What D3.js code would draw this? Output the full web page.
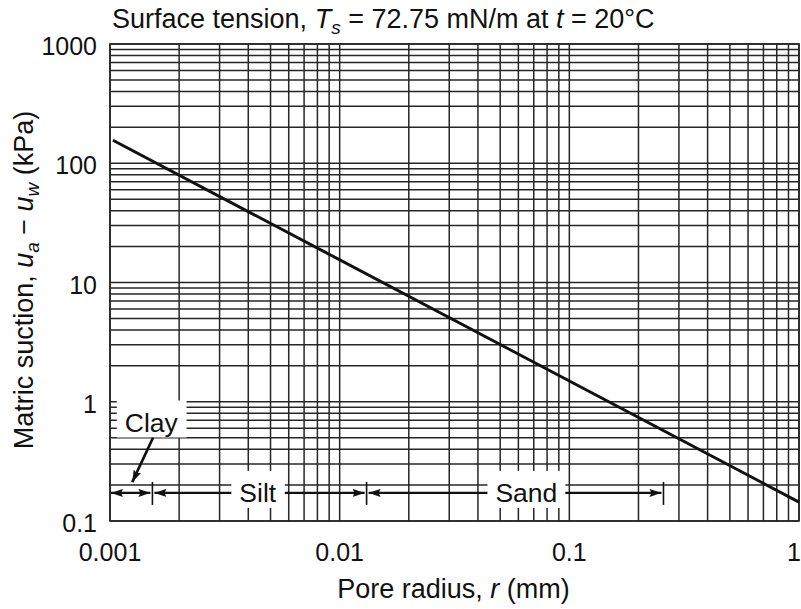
<!DOCTYPE html>
<html>
<head>
<meta charset="utf-8">
<script src="https://cdn.jsdelivr.net/npm/d3@7"></script>
<style>
  html, body { margin: 0; padding: 0; background: #fff; }
  svg { display: block; font-family: "Liberation Sans", Arial, Helvetica, sans-serif; }
</style>
</head>
<body>
<svg id="chart" width="801" height="609"></svg>
<script>
// ---- data ----
const xDomain = [0.001, 1];              // pore radius (mm)
const yDomain = [0.1, 1000];             // matric suction (kPa)
const xTickValues = [0.001, 0.01, 0.1, 1];
const xTickLabels = ["0.001", "0.01", "0.1", "1"];
const yTickValues = [0.1, 1, 10, 100, 1000];
const yTickLabels = ["0.1", "1", "10", "100", "1000"];
const curveRadius = [0.00103, 1];        // line endpoints
const curveSuction = [156, 0.144];
const soilNames = ["Clay", "Silt", "Sand"];
const soilBounds = [0.001, 0.00153, 0.0131, 0.257]; // class boundaries (mm)
const arrowLevel = 0.172;                // suction level of the range arrows
const soilLabelX = [null, 0.0044, 0.065];   // label positions for Silt, Sand
const clayLabel = { r: 0.00116, s: 0.62 };
const clayPointerFrom = [0.00154, 0.5];
const clayPointerTo = [0.00125, 0.212];

// ---- layout ----
const svg = d3.select("#chart");
const m = { left: 110, right: 799, top: 44, bottom: 521 };
const x = d3.scaleLog().domain(xDomain).range([m.left, m.right]);
const y = d3.scaleLog().domain(yDomain).range([m.bottom, m.top]);
const gridColor = "#262626";

svg.append("defs").append("marker")
  .attr("id", "ah").attr("viewBox", "0 0 12 8")
  .attr("refX", 12).attr("refY", 4)
  .attr("markerWidth", 12).attr("markerHeight", 8)
  .attr("markerUnits", "userSpaceOnUse")
  .attr("orient", "auto-start-reverse")
  .append("path").attr("d", "M0,0 L12,4 L0,8 L2,4 Z").attr("fill", "#111");

// grid
const gx = svg.append("g");
gx.selectAll("line").data(x.ticks()).join("line")
  .attr("x1", d => x(d)).attr("x2", d => x(d))
  .attr("y1", m.top).attr("y2", m.bottom)
  .attr("stroke", gridColor).attr("stroke-width", 1.5);
const gy = svg.append("g");
gy.selectAll("line").data(y.ticks()).join("line")
  .attr("y1", d => y(d)).attr("y2", d => y(d))
  .attr("x1", m.left).attr("x2", m.right)
  .attr("stroke", gridColor).attr("stroke-width", 1.5);
svg.append("rect")
  .attr("x", m.left).attr("y", m.top)
  .attr("width", m.right - m.left).attr("height", m.bottom - m.top)
  .attr("fill", "none").attr("stroke", gridColor).attr("stroke-width", 1.6);

// range arrows
const ay = y(arrowLevel);
const arrows = svg.append("g");
for (let i = 0; i < 3; i++) {
  const x0 = x(soilBounds[i]) + (i === 0 ? 1 : 2);
  const x1 = x(soilBounds[i + 1]) - 2;
  arrows.append("line")
    .attr("x1", x0).attr("x2", x1).attr("y1", ay).attr("y2", ay)
    .attr("stroke", "#111").attr("stroke-width", 2.2)
    .attr("marker-start", "url(#ah)").attr("marker-end", "url(#ah)");
}
arrows.selectAll("line.tick").data(soilBounds.slice(1)).join("line")
  .attr("class", "tick")
  .attr("x1", d => x(d)).attr("x2", d => x(d))
  .attr("y1", ay - 11).attr("y2", ay + 12)
  .attr("stroke", "#111").attr("stroke-width", 1.6);

// labels with white boxes
const labFont = 26.5;
function boxedLabel(text, cx, baseline, anchor) {
  const g = svg.append("g");
  const t = g.append("text").attr("x", cx).attr("y", baseline)
    .attr("text-anchor", anchor).attr("font-size", labFont).attr("fill", "#111").text(text);
  const b = t.node().getBBox();
  g.insert("rect", "text")
    .attr("x", b.x - 8).attr("y", b.y - 7)
    .attr("width", b.width + 16).attr("height", b.height + 7)
    .attr("fill", "#fff");
  return g;
}
for (let i = 1; i < 3; i++) {
  boxedLabel(soilNames[i], x(soilLabelX[i]), ay + 9, "middle");
}
boxedLabel(soilNames[0], x(clayLabel.r), y(clayLabel.s) + 5, "start");

// clay pointer
svg.append("line")
  .attr("x1", x(clayPointerFrom[0])).attr("y1", y(clayPointerFrom[1]))
  .attr("x2", x(clayPointerTo[0])).attr("y2", y(clayPointerTo[1]))
  .attr("stroke", "#111").attr("stroke-width", 2.6)
  .attr("marker-end", "url(#ah)");

// curve
const pts = curveRadius.map((r, i) => [r, curveSuction[i]]);
svg.append("path")
  .attr("d", d3.line().x(d => x(d[0])).y(d => y(d[1]))(pts))
  .attr("fill", "none").attr("stroke", "#111").attr("stroke-width", 3);

// tick labels
const tickFont = 25;
svg.append("g").selectAll("text").data(xTickValues).join("text")
  .attr("x", (d, i) => i === xTickValues.length - 1 ? x(d) + 2 : x(d)).attr("y", 561)
  .attr("text-anchor", (d, i) => i === xTickValues.length - 1 ? "end" : "middle")
  .attr("font-size", tickFont).attr("fill", "#111")
  .text((d, i) => xTickLabels[i]);
svg.append("g").selectAll("text").data(yTickValues).join("text")
  .attr("x", 97).attr("y", d => y(d) + 11)
  .attr("text-anchor", "end").attr("font-size", tickFont).attr("fill", "#111")
  .text((d, i) => yTickLabels[i]);

// x axis title
const xt = svg.append("text").attr("x", (m.left + m.right) / 2 - 1).attr("y", 598)
  .attr("text-anchor", "middle").attr("font-size", 27).attr("fill", "#111");
xt.append("tspan").text("Pore radius, ");
xt.append("tspan").attr("font-style", "italic").text("r");
xt.append("tspan").text(" (mm)");

// y axis title
const yt = svg.append("text")
  .attr("transform", "translate(33,280) rotate(-90)")
  .attr("text-anchor", "middle").attr("font-size", 27).attr("fill", "#111");
yt.append("tspan").text("Matric suction, ");
yt.append("tspan").attr("font-style", "italic").text("u");
yt.append("tspan").attr("font-style", "italic").attr("font-size", 19).attr("dy", 6).text("a");
yt.append("tspan").attr("dy", -6).text(" \u2212 ");
yt.append("tspan").attr("font-style", "italic").text("u");
yt.append("tspan").attr("font-style", "italic").attr("font-size", 19).attr("dy", 6).text("w");
yt.append("tspan").attr("dy", -6).text(" (kPa)");

// title
const tt = svg.append("text").attr("x", 112).attr("y", 28)
  .attr("font-size", 27).attr("fill", "#111");
tt.append("tspan").text("Surface tension, ");
tt.append("tspan").attr("font-style", "italic").text("T");
tt.append("tspan").attr("font-style", "italic").attr("font-size", 19).attr("dy", 6).text("s");
tt.append("tspan").attr("dy", -6).text(" = 72.75 mN/m at ");
tt.append("tspan").attr("font-style", "italic").text("t");
tt.append("tspan").text(" = 20\u00B0C");
</script>
</body>
</html>
